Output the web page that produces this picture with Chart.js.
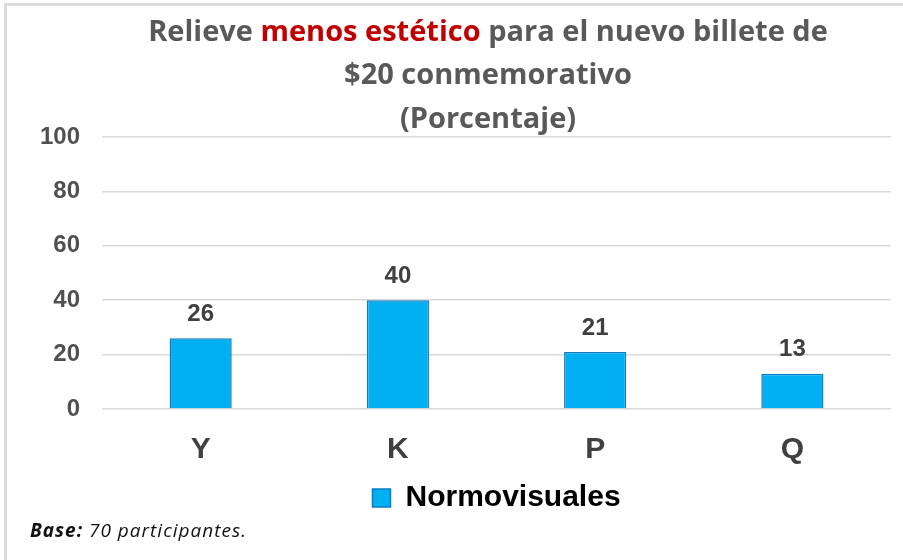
<!DOCTYPE html>
<html>
<head>
<meta charset="utf-8">
<script src="https://cdn.jsdelivr.net/npm/chart.js@4.4.0/dist/chart.umd.min.js"></script>
<style>
  html, body { margin: 0; padding: 0; background: #fff; }
  #wrap { position: relative; width: 903px; height: 560px; box-sizing: border-box;
          border-top: 3px solid #dcdcdc; border-left: 3px solid #dcdcdc; margin-left: 4px; margin-top: 3px; }
  #bar-chart { display: block; }
</style>
</head>
<body>
<div id="wrap"><canvas id="bar-chart" width="896" height="554"></canvas></div>
<script>
const categories = ["Y", "K", "P", "Q"];
const seriesName = "Normovisuales";
const values = [26, 40, 21, 13];
const yTicks = [0, 20, 40, 60, 80, 100];

const titleLines = [
  [["Relieve ", "#595959"], ["menos estético", "#C00000"], [" para el nuevo billete de", "#595959"]],
  [["$20 conmemorativo", "#595959"]],
  [["(Porcentaje)", "#595959"]]
];
const baseNote = [["Base:", "bold italic"], [" 70 participantes.", "italic"]];

const chartCanvas = document.getElementById("bar-chart");

// title with mixed colours + base note
const textPlugin = {
  id: "textPlugin",
  afterDraw(chart) {
    const ctx = chart.ctx;
    ctx.save();
    ctx.textBaseline = "middle";
    ctx.font = "bold 29px 'Open Sans', sans-serif";
    const lineY = [27, 70, 114];
    titleLines.forEach((parts, i) => {
      const total = parts.reduce((w, p) => w + ctx.measureText(p[0]).width, 0);
      let x = 481 - total / 2;
      parts.forEach(p => {
        ctx.fillStyle = p[1];
        ctx.textAlign = "left";
        ctx.fillText(p[0], x, lineY[i]);
        x += ctx.measureText(p[0]).width;
      });
    });
    let x = 23;
    ctx.letterSpacing = "1px";
    baseNote.forEach(p => {
      ctx.font = p[1] + " 19px 'Open Sans', sans-serif";
      ctx.fillStyle = "#111";
      ctx.fillText(p[0], x, 526);
      x += ctx.measureText(p[0]).width;
    });
    ctx.restore();
  }
};

// value labels above bars
const valueLabels = {
  id: "valueLabels",
  afterDatasetsDraw(chart) {
    const ctx = chart.ctx;
    const meta = chart.getDatasetMeta(0);
    ctx.save();
    ctx.font = "bold 24px 'Liberation Sans', Arial, sans-serif";
    ctx.fillStyle = "#404040";
    ctx.textAlign = "center";
    ctx.textBaseline = "bottom";
    meta.data.forEach((bar, i) => {
      ctx.fillText(values[i], bar.x, bar.y - 12);
    });
    ctx.restore();
  }
};

new Chart(chartCanvas, {
  type: "bar",
  data: {
    labels: categories,
    datasets: [{
      label: seriesName,
      data: values,
      backgroundColor: "#00B0F0",
      borderColor: "#0A7BC4",
      borderWidth: 1.5,
      categoryPercentage: 1,
      barPercentage: 0.315
    }]
  },
  options: {
    responsive: false,
    animation: false,
    layout: { padding: { top: 131, left: 11, right: 12, bottom: 37 } },
    plugins: {
      title: { display: false },
      tooltip: { enabled: false },
      legend: {
        display: true,
        position: "bottom",
        fullSize: false,
        labels: {
          boxWidth: 18,
          boxHeight: 18,
          padding: 15,
          color: "#404040",
          font: { family: "'Liberation Sans', Arial, sans-serif", size: 30, weight: "bold" },
          generateLabels: chart => [{
            text: seriesName,
            fillStyle: "#00B0F0",
            strokeStyle: "#0A7BC4",
            lineWidth: 1.5,
            datasetIndex: 0
          }]
        }
      }
    },
    scales: {
      x: {
        grid: { display: false, drawTicks: false },
        border: { display: false },
        afterFit: scale => { scale.height -= 23; },
        ticks: {
          padding: 23,
          color: "#404040",
          font: { family: "'Liberation Sans', Arial, sans-serif", size: 30, weight: "bold" }
        }
      },
      y: {
        min: 0,
        max: 100,
        afterBuildTicks: axis => { axis.ticks = yTicks.map(v => ({ value: v })); },
        grid: { color: "#d9d9d9", lineWidth: 1.5, drawTicks: false },
        border: { display: false },
        ticks: {
          padding: 22,
          color: "#505050",
          font: { family: "'Liberation Sans', Arial, sans-serif", size: 24, weight: "bold" }
        }
      }
    }
  },
  plugins: [textPlugin, valueLabels]
});
</script>
</body>
</html>
